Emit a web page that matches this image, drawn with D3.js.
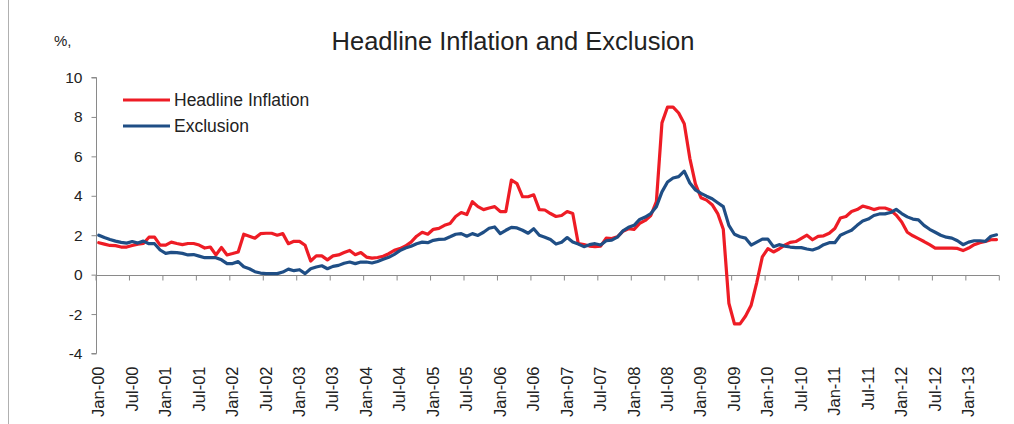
<!DOCTYPE html>
<html>
<head>
<meta charset="utf-8">
<script src="https://cdn.jsdelivr.net/npm/d3@7"></script>
<style>
  html, body { margin: 0; padding: 0; background: #fff; }
  svg { display: block; }
  text { font-family: "Liberation Sans", Arial, sans-serif; fill: #222; }
</style>
</head>
<body>
<svg id="chart" width="1014" height="424"></svg>
<script>
// Monthly series, Jan-2000 to Jun-2013 (year-on-year %)
const monthNames = ["Jan","Feb","Mar","Apr","May","Jun","Jul","Aug","Sep","Oct","Nov","Dec"];
const years = ["00","01","02","03","04","05","06","07","08","09","10","11","12","13"];

const headline = [
  1.62,1.55,1.48,1.47,1.40,1.40,1.48,1.55,1.58,1.90,1.90,1.50,
  1.50,1.65,1.58,1.52,1.58,1.58,1.50,1.35,1.40,1.00,1.38,1.00,
  1.07,1.15,2.05,1.95,1.85,2.08,2.10,2.10,2.00,2.08,1.57,1.69,
  1.69,1.49,0.69,0.95,0.95,0.75,0.95,1.00,1.12,1.23,1.01,1.12,
  0.89,0.84,0.87,0.93,1.06,1.23,1.32,1.45,1.65,1.95,2.15,2.05,
  2.30,2.35,2.50,2.60,2.95,3.15,3.05,3.70,3.45,3.30,3.38,3.45,
  3.20,3.20,4.80,4.62,3.95,3.95,4.05,3.30,3.28,3.10,2.95,3.00,
  3.20,3.10,1.57,1.52,1.45,1.42,1.45,1.85,1.83,1.92,2.20,2.33,
  2.30,2.60,2.75,3.00,3.70,7.70,8.50,8.50,8.20,7.65,5.90,4.60,
  3.90,3.78,3.55,3.10,2.30,-1.45,-2.50,-2.50,-2.10,-1.55,-0.40,0.90,
  1.32,1.15,1.30,1.50,1.64,1.68,1.84,2.00,1.77,1.94,1.97,2.10,
  2.34,2.87,2.95,3.20,3.30,3.48,3.40,3.30,3.38,3.38,3.28,3.02,
  2.67,2.15,1.97,1.83,1.68,1.52,1.35,1.35,1.35,1.35,1.33,1.22,
  1.35,1.52,1.62,1.68,1.77,1.78
];

const exclusion = [
  2.00,1.88,1.78,1.70,1.64,1.60,1.68,1.60,1.70,1.57,1.57,1.25,
  1.08,1.13,1.12,1.08,1.00,1.02,0.94,0.86,0.86,0.86,0.75,0.56,
  0.56,0.66,0.40,0.30,0.15,0.08,0.05,0.05,0.05,0.13,0.28,0.20,
  0.25,0.05,0.30,0.39,0.45,0.30,0.42,0.47,0.58,0.64,0.56,0.64,
  0.64,0.59,0.67,0.78,0.88,1.03,1.22,1.35,1.44,1.57,1.65,1.62,
  1.74,1.79,1.80,1.92,2.05,2.08,1.95,2.08,1.99,2.15,2.35,2.42,
  2.08,2.25,2.40,2.37,2.25,2.10,2.33,2.00,1.90,1.78,1.55,1.64,
  1.88,1.65,1.55,1.42,1.52,1.57,1.50,1.72,1.75,1.90,2.22,2.40,
  2.50,2.80,2.92,3.10,3.45,4.20,4.70,4.90,4.97,5.25,4.65,4.30,
  4.12,3.98,3.85,3.65,3.45,2.50,2.05,1.92,1.85,1.50,1.65,1.80,
  1.80,1.42,1.52,1.45,1.40,1.37,1.37,1.30,1.25,1.35,1.52,1.62,
  1.62,2.00,2.13,2.25,2.50,2.72,2.82,3.00,3.08,3.08,3.15,3.31,
  3.10,2.93,2.82,2.78,2.50,2.30,2.15,2.00,1.90,1.85,1.72,1.52,
  1.65,1.72,1.72,1.69,1.95,2.02
];

const yTicks = [-4, -2, 0, 2, 4, 6, 8, 10];
const xTickLabels = ["Jan-00","Jul-00","Jan-01","Jul-01","Jan-02","Jul-02","Jan-03","Jul-03",
  "Jan-04","Jul-04","Jan-05","Jul-05","Jan-06","Jul-06","Jan-07","Jul-07","Jan-08","Jul-08",
  "Jan-09","Jul-09","Jan-10","Jul-10","Jan-11","Jul-11","Jan-12","Jul-12","Jan-13"];

// category list: one entry per month
const categories = [];
years.forEach(y => monthNames.forEach(m => categories.push(m + "-" + y)));
categories.length = headline.length;

const series = [
  { name: "Headline Inflation", values: headline, color: "#EE1C25" },
  { name: "Exclusion", values: exclusion, color: "#1F4E85" }
];

const svg = d3.select("#chart");
const axisColor = "#8a8a8a";

const plot = { left: 96, right: 999.3, top: 77.5, bottom: 353.5 };

const x = d3.scaleBand().domain(categories).range([plot.left, plot.right]).padding(0);
const y = d3.scaleLinear().domain([-4, 10]).range([plot.bottom, plot.top]);
const cx = c => x(c) + x.bandwidth() / 2;

// frame edge on the left
svg.append("line").attr("x1", 8.5).attr("x2", 8.5).attr("y1", 0).attr("y2", 424)
  .attr("stroke", "#b0b0b0").attr("stroke-width", 1);

// title and unit
svg.append("text").attr("x", 513).attr("y", 50).attr("text-anchor", "middle")
  .style("font-size", "25.5px").text("Headline Inflation and Exclusion");
svg.append("text").attr("x", 54).attr("y", 46).style("font-size", "15px").text("%,");

// y axis
const yAxis = d3.axisLeft(y).tickValues(yTicks).tickSize(5).tickPadding(9).tickFormat(d => String(d));
const gy = svg.append("g").attr("transform", `translate(${plot.left + 0.5},0)`).call(yAxis);
gy.select(".domain").attr("stroke", axisColor).attr("d", `M-5,${y(-4)}H0V${y(10)}H-5`);
gy.selectAll(".tick line").attr("stroke", axisColor);
gy.selectAll(".tick text").style("font-size", "15.5px").attr("fill", "#222")
  .style("font-family", '"Liberation Sans", Arial, sans-serif');

// x axis along zero
const y0 = Math.round(y(0)) + 0.5;
svg.append("line").attr("x1", plot.left).attr("x2", plot.right).attr("y1", y0).attr("y2", y0)
  .attr("stroke", axisColor).attr("stroke-width", 1);
const tickIdx = d3.range(0, categories.length + 1, 6);
svg.append("g").selectAll("line").data(tickIdx).join("line")
  .attr("x1", i => i < categories.length ? x(categories[i]) : plot.right)
  .attr("x2", i => i < categories.length ? x(categories[i]) : plot.right)
  .attr("y1", y0).attr("y2", y0 + 5)
  .attr("stroke", axisColor);

// x labels, rotated
svg.append("g").selectAll("text").data(xTickLabels).join("text")
  .attr("transform", d => `translate(${cx(d) + 5.5},${y(-4) + 13}) rotate(-90)`)
  .attr("text-anchor", "end")
  .style("font-size", "16.5px")
  .text(d => d);

// series lines
const line = d3.line()
  .x((d, i) => cx(categories[i]))
  .y(d => y(d));

svg.append("g").selectAll("path").data(series).join("path")
  .attr("d", s => line(s.values))
  .attr("fill", "none")
  .attr("stroke", s => s.color)
  .attr("stroke-width", 3.2)
  .attr("stroke-linejoin", "round")
  .attr("stroke-linecap", "round");

// legend
const legend = svg.append("g").selectAll("g").data(series).join("g")
  .attr("transform", (s, i) => `translate(123,${100 + i * 26})`);
legend.append("line").attr("x1", 0).attr("x2", 47).attr("y1", 0).attr("y2", 0)
  .attr("stroke", s => s.color).attr("stroke-width", 3.2);
legend.append("text").attr("x", 51).attr("y", 6).style("font-size", "17.5px").text(s => s.name);
</script>
</body>
</html>
